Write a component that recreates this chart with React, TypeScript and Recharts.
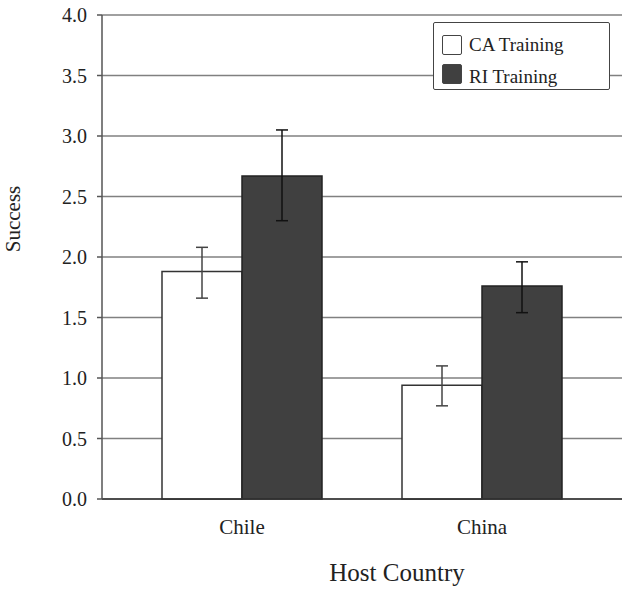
import { Bar, BarChart, CartesianGrid, ErrorBar, Label, Legend, XAxis, YAxis } from "recharts";

const countries = ["Chile", "China"];
const caTraining = [1.88, 0.94];
const riTraining = [2.67, 1.76];
const caError = [[0.22, 0.2], [0.17, 0.16]];
const riError = [[0.37, 0.38], [0.22, 0.2]];
const yTicks = [0, 0.5, 1, 1.5, 2, 2.5, 3, 3.5, 4];

const data = countries.map((country, i) => ({
  country,
  ca: caTraining[i],
  ri: riTraining[i],
  caErr: caError[i],
  riErr: riError[i],
}));

const font = "'Liberation Serif', 'Times New Roman', serif";

function LegendBox() {
  const items = [
    { name: "CA Training", fill: "#ffffff", textShift: 0 },
    { name: "RI Training", fill: "#404040", textShift: 3 },
  ];
  return (
    <div
      style={{
        width: 177,
        height: 68,
        border: "1.5px solid #444",
        borderRadius: 2,
        background: "#fff",
        boxSizing: "border-box",
        padding: "7px 0 0 8px",
        fontFamily: font,
        fontSize: 19,
        color: "#222",
        lineHeight: "20px",
      }}
    >
      {items.map((item) => (
        <div key={item.name} style={{ display: "flex", alignItems: "center", height: 29 }}>
          <span
            style={{
              width: 20,
              height: 20,
              background: item.fill,
              border: "1.5px solid #444",
              borderRadius: 2,
              marginRight: 7,
              boxSizing: "border-box",
            }}
          />
          <span style={{ position: "relative", top: item.textShift }}>{item.name}</span>
        </div>
      ))}
    </div>
  );
}

export default function App() {
  return (
    <div style={{ position: "absolute", left: 0, top: 0, width: 626, height: 590, background: "#fff" }}>
      <BarChart
        width={626}
        height={590}
        data={data}
        margin={{ top: 15, right: 4, bottom: 41, left: 0 }}
        barCategoryGap={40}
        barGap={0}
      >
        <CartesianGrid vertical={false} stroke="#808080" strokeWidth={1.5} />
        <XAxis
          dataKey="country"
          height={50}
          padding={{ left: 20, right: 20 }}
          axisLine={{ stroke: "#333", strokeWidth: 1.5 }}
          tickLine={false}
          tick={{ fill: "#222", fontFamily: font, fontSize: 21 }}
          tickMargin={14}
        >
          <Label
            value="Host Country"
            position="insideBottom"
            offset={-32}
            dx={35}
            style={{ fill: "#222", fontFamily: font, fontSize: 25 }}
          />
        </XAxis>
        <YAxis
          width={102}
          domain={[0, 4]}
          ticks={yTicks}
          tickFormatter={(v: number) => v.toFixed(1)}
          axisLine={{ stroke: "#555", strokeWidth: 1.5 }}
          tickLine={{ stroke: "#555", strokeWidth: 1.5 }}
          tickSize={5}
          tickMargin={10}
          tick={{ fill: "#222", fontFamily: font, fontSize: 20 }}
        >
          <Label
            value="Success"
            angle={-90}
            position="insideLeft"
            offset={13}
            dy={-38}
            style={{ fill: "#222", fontFamily: font, fontSize: 21, textAnchor: "middle" }}
          />
        </YAxis>
        <Legend
          layout="horizontal"
          verticalAlign="middle"
          align="center"
          content={<LegendBox />}
          wrapperStyle={{ position: "absolute", left: 433, top: 22, width: 177, height: 68 }}
        />
        <Bar dataKey="ca" name="CA Training" fill="#ffffff" stroke="#333" strokeWidth={1.5} isAnimationActive={false}>
          <ErrorBar dataKey="caErr" width={6} stroke="#444" strokeWidth={1.5} />
        </Bar>
        <Bar dataKey="ri" name="RI Training" fill="#404040" stroke="#222" strokeWidth={1.5} isAnimationActive={false}>
          <ErrorBar dataKey="riErr" width={6} stroke="#111" strokeWidth={1.5} />
        </Bar>
      </BarChart>
    </div>
  );
}
